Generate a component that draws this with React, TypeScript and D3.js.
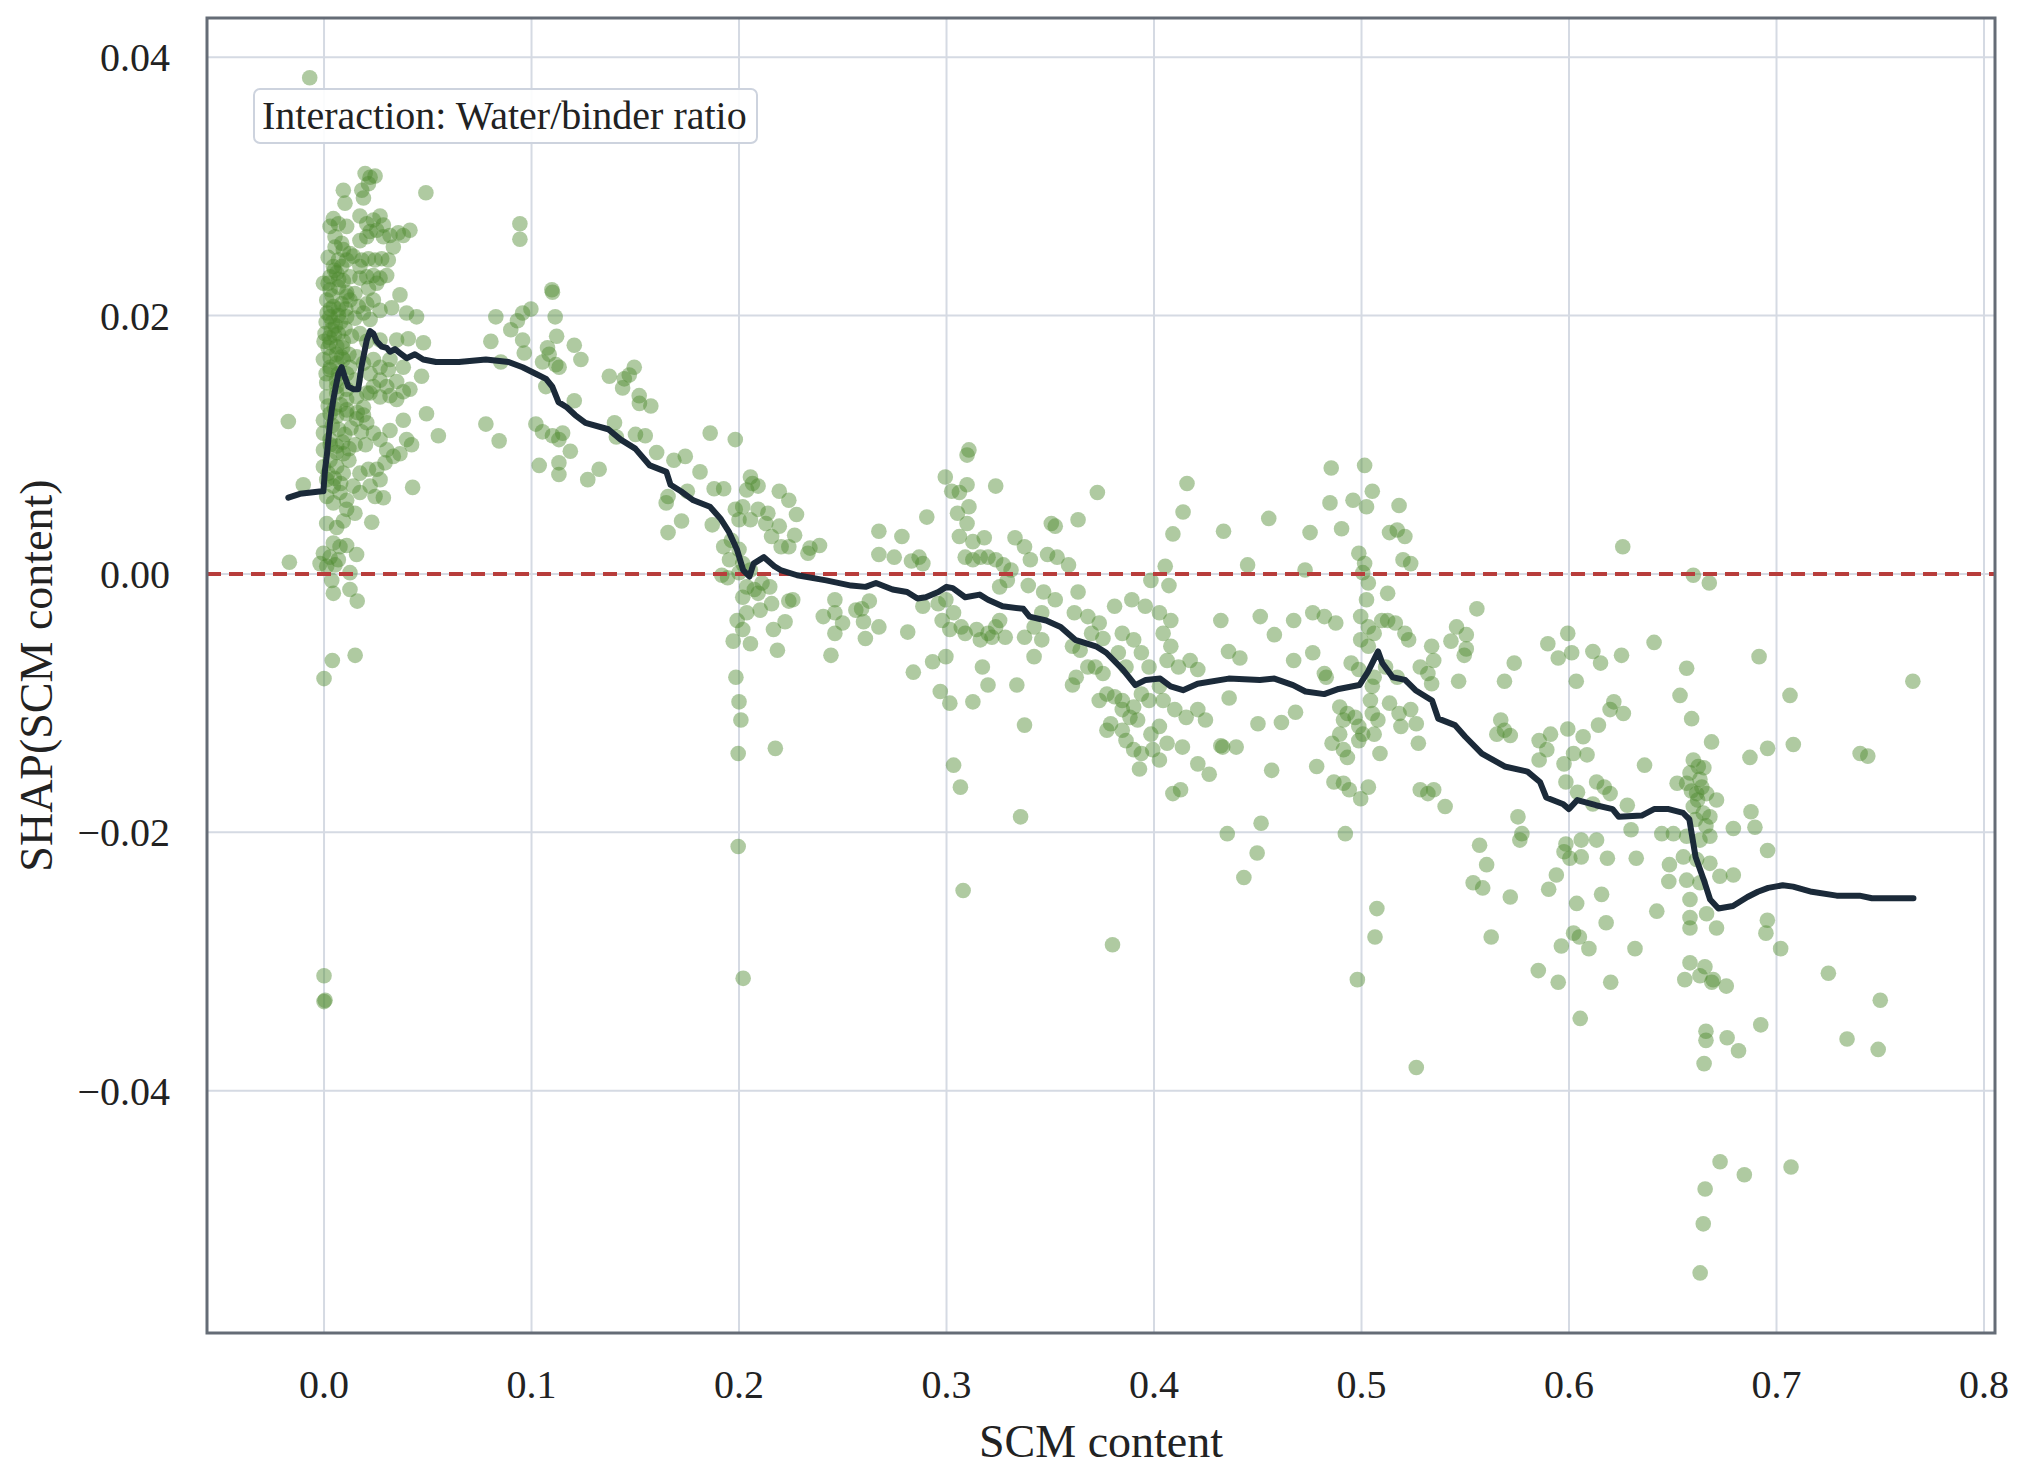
import React, { useEffect } from 'react'
import * as d3 from 'd3'

type Pt = [number, number]

// ---- data (SCM content, SHAP value) ----

// tall cluster at SCM ~ 0, upper part
const clusterZeroUpper: Pt[] = [
  [0.0198, 0.031], [0.0222, 0.0307], [0.0246, 0.0308], [0.0214, 0.0302], [0.0182, 0.0297],
  [0.0093, 0.0297], [0.0101, 0.0287], [0.019, 0.0291], [0.0491, 0.0295],
  [0.0045, 0.0275], [0.0069, 0.0271], [0.0029, 0.0269], [0.0109, 0.0269], [0.0173, 0.0277],
  [0.0206, 0.0271], [0.0238, 0.0274], [0.027, 0.0277], [0.0286, 0.027], [0.0254, 0.0266],
  [0.0206, 0.0261], [0.0173, 0.0258], [0.0222, 0.0265], [0.0286, 0.0261], [0.0318, 0.0262],
  [0.0358, 0.0264], [0.0382, 0.0262], [0.0414, 0.0266], [0.0053, 0.0261], [0.0085, 0.0256],
  [0.0053, 0.0253], [0.0093, 0.0251], [0.0125, 0.0248], [0.0069, 0.0243], [0.0109, 0.0243],
  [0.0141, 0.0246], [0.0182, 0.0243], [0.0214, 0.0244], [0.0246, 0.0243], [0.0278, 0.0244],
  [0.031, 0.0243], [0.0334, 0.0253], [0.0045, 0.0238], [0.0085, 0.0238], [0.0173, 0.0238],
  [-0.0003, 0.0225], [0.0029, 0.023], [0.0061, 0.0233], [0.0093, 0.0227], [0.0125, 0.023],
  [0.0173, 0.0229], [0.0206, 0.023], [0.0238, 0.0231], [0.027, 0.0229], [0.0302, 0.0231],
  [0.0029, 0.022], [0.0069, 0.0222], [0.0109, 0.0218], [0.0149, 0.0217], [0.0214, 0.0221],
  [0.0254, 0.0225], [0.0366, 0.0216],
  [0.0013, 0.0212], [0.0045, 0.0207], [0.0085, 0.0209], [0.0125, 0.0212], [0.0165, 0.0207],
  [0.0206, 0.0209], [0.0238, 0.0212], [0.027, 0.0204], [0.0326, 0.0206], [0.0398, 0.0202],
  [0.0446, 0.0199], [0.0029, 0.0199], [0.0069, 0.02], [0.0109, 0.0199], [0.0149, 0.0198],
  [0.019, 0.0202], [0.0222, 0.0197],
  [0.0005, 0.0186], [0.0037, 0.0189], [0.0069, 0.0186], [0.0101, 0.019], [0.0133, 0.0184],
  [0.0173, 0.0186], [0.0206, 0.018], [0.0029, 0.0179], [0.0061, 0.0176], [0.0093, 0.018],
  [0.027, 0.0181], [0.035, 0.0181], [0.0406, 0.0182], [0.0479, 0.0179],
  [-0.0003, 0.0166], [0.0029, 0.0168], [0.0061, 0.0163], [0.0093, 0.0166], [0.0125, 0.016],
  [0.0157, 0.0168], [0.019, 0.0163], [0.0238, 0.0166], [0.027, 0.016], [0.0318, 0.0166],
  [0.0029, 0.0158], [0.0069, 0.0155], [0.0109, 0.0155], [0.0222, 0.0155], [0.031, 0.0158],
  [0.0382, 0.016], [0.047, 0.0153],
  [0.0013, 0.0148], [0.0061, 0.0145], [0.0109, 0.0143], [0.0149, 0.015], [0.027, 0.015],
  [0.0302, 0.0145], [0.035, 0.0149], [0.0414, 0.0143], [0.0206, 0.014], [0.0238, 0.0145],
  [0.001, 0.0195], [0.003, 0.0205], [0.005, 0.0185], [0.002, 0.0175], [0.008, 0.0195],
  [0.004, 0.0215], [0.007, 0.0205], [0.001, 0.0155], [0.006, 0.017], [0.003, 0.016],
  [0.009, 0.0175], [0.012, 0.017], [0.002, 0.0225], [0.005, 0.0235], [0.011, 0.0215],
  [0.0, 0.018], [0.006, 0.015], [0.004, 0.0195], [0.002, 0.0245], [0.007, 0.0228],
  [0.0015, 0.0202], [0.0055, 0.0192], [0.0085, 0.0168], [0.0025, 0.0183], [0.0105, 0.0205],
]

// cluster at SCM ~ 0, lower part and outliers
const clusterZeroLower: Pt[] = [
  [0.0013, 0.0137], [0.0061, 0.014], [0.0109, 0.0135], [0.0157, 0.0137], [0.019, 0.0129],
  [0.0222, 0.014], [0.027, 0.0137], [0.0318, 0.0138], [0.035, 0.0135], [0.0382, 0.0141],
  [-0.0172, 0.0118], [0.0494, 0.0124], [0.0551, 0.0107], [0.0382, 0.0119], [0.0318, 0.0111],
  [0.0398, 0.0104], [0.0422, 0.01],
  [-0.0003, 0.0119], [0.0029, 0.0124], [0.0061, 0.0122], [0.0109, 0.0124], [0.0157, 0.012],
  [0.019, 0.0123], [0.0206, 0.0117], [0.0238, 0.0109], [0.027, 0.0104], [0.0302, 0.0096],
  [0.0334, 0.0091], [0.0366, 0.0093], [0.0294, 0.0086], [0.0254, 0.0081], [0.0214, 0.0081],
  [0.0173, 0.0078], [0.027, 0.0073], [0.0222, 0.0068], [0.0173, 0.0063], [0.0246, 0.006],
  [0.0286, 0.0059], [0.0141, 0.0068], [0.0109, 0.0057],
  [-0.0003, 0.0109], [0.0029, 0.0104], [0.0061, 0.0099], [0.0093, 0.0093], [-0.0003, 0.0096],
  [0.0029, 0.0088], [0.0061, 0.0083], [-0.0003, 0.0083], [0.0093, 0.0078], [0.0013, 0.0073],
  [0.0045, 0.0068], [0.0013, 0.006], [0.0077, 0.0063], [0.0045, 0.0055], [0.0109, 0.005],
  [0.0149, 0.0047],
  [0.0013, 0.0039], [0.0061, 0.0036], [0.0093, 0.0041], [0.023, 0.004],
  [0.0045, 0.0024], [0.0077, 0.0021], [0.0109, 0.0022], [-0.0003, 0.0016], [0.0029, 0.0013],
  [0.0069, 0.0011], [0.0157, 0.0015], [-0.0019, 0.0008], [0.0013, 0.0006], [0.0053, 0.0007],
  [-0.0167, 0.0009], [-0.01, 0.0069], [0.0427, 0.0067],
  [0.0037, -0.0005], [0.0125, 0.0001], [0.0045, -0.0015], [0.0125, -0.0012], [0.016, -0.0021],
  [0.002, 0.013], [0.005, 0.0128], [0.008, 0.0131], [0.011, 0.0127], [0.004, 0.0115],
  [0.007, 0.0112], [0.01, 0.0108], [0.013, 0.0113], [0.003, 0.01], [0.006, 0.0094],
  [0.009, 0.0102], [0.012, 0.0097], [0.002, 0.0078], [0.005, 0.0074], [0.008, 0.007],
  [0.012, 0.0088], [0.015, 0.01], [0.018, 0.011], [0.016, 0.0125], [0.02, 0.01],
  [0.004, -0.0067], [0.015, -0.0063], [0.0, -0.0081],
  [0.0, -0.0311], [0.0, -0.0331], [0.0005, -0.033], [-0.0069, 0.0384],
]

// SCM 0.05 - 0.2
const bandTenth: Pt[] = [
  [0.0944, 0.0271], [0.0944, 0.0259], [0.078, 0.0116], [0.0844, 0.0103],
  [0.0828, 0.0199], [0.0804, 0.018], [0.0852, 0.0164],
  [0.09, 0.0189], [0.0932, 0.0196], [0.0957, 0.0202], [0.0997, 0.0205],
  [0.0957, 0.0181], [0.0965, 0.0171], [0.1098, 0.022], [0.1101, 0.0218],
  [0.1114, 0.0199], [0.1121, 0.0184], [0.1077, 0.0175], [0.1085, 0.017], [0.1053, 0.0164],
  [0.1117, 0.0162], [0.1133, 0.016], [0.1206, 0.0177], [0.1238, 0.0166],
  [0.1069, 0.0145], [0.1021, 0.0116], [0.1053, 0.011], [0.1101, 0.0107],
  [0.1375, 0.0153], [0.1447, 0.0151], [0.1471, 0.0154], [0.1495, 0.016], [0.1439, 0.0144],
  [0.1519, 0.0138], [0.1037, 0.0084],
  [0.1206, 0.0134], [0.152, 0.0132], [0.1575, 0.013],
  [0.115, 0.0109], [0.1132, 0.0104], [0.1187, 0.0095], [0.1132, 0.0086], [0.1132, 0.0077],
  [0.14, 0.0117], [0.1501, 0.0108], [0.1548, 0.0107], [0.1409, 0.0106],
  [0.1603, 0.0094], [0.1686, 0.0088], [0.1741, 0.0091],
  [0.1326, 0.0081], [0.1271, 0.0073], [0.1812, 0.0079],
  [0.1861, 0.0109], [0.1982, 0.0104],
  [0.1658, 0.006], [0.1649, 0.0055], [0.1751, 0.0064], [0.1723, 0.0041], [0.1658, 0.0032],
  [0.188, 0.0066], [0.1926, 0.0066], [0.1871, 0.0038],
]

// SCM 0.2 - 0.4
const bandFifth: Pt[] = [
  [0.2055, 0.0075], [0.2092, 0.0068], [0.2037, 0.0065], [0.2065, 0.007],
  [0.2194, 0.0064], [0.224, 0.0057], [0.2277, 0.0046], [0.2268, 0.003],
  [0.1982, 0.005], [0.2018, 0.0052], [0.2092, 0.005], [0.2139, 0.0047], [0.2, 0.0042],
  [0.2055, 0.0042], [0.2129, 0.0039], [0.2157, 0.0029], [0.2194, 0.0037], [0.224, 0.0021],
  [0.2203, 0.0021], [0.1963, 0.0026], [0.1926, 0.0021], [0.2, 0.0019], [0.1954, 0.0011],
  [0.2018, 0.0008], [0.2055, 0.0003],
  [0.2342, 0.002], [0.2388, 0.0022], [0.2332, 0.0016],
  [0.1917, -0.0001], [0.2, 0.0001], [0.1945, -0.0003],
  [0.2037, -0.001], [0.2074, -0.0012], [0.2111, -0.0007], [0.2148, -0.001], [0.2018, -0.0018],
  [0.2092, -0.0015], [0.2157, -0.0023], [0.224, -0.0021], [0.2259, -0.002], [0.2102, -0.0028],
  [0.2037, -0.003], [0.1991, -0.0036], [0.2018, -0.0043], [0.1972, -0.0052], [0.2055, -0.0054],
  [0.2166, -0.0043], [0.2222, -0.0037], [0.2185, -0.0059],
  [0.1985, -0.008], [0.2, -0.0099], [0.2009, -0.0113], [0.1996, -0.0139],
  [0.2175, -0.0135], [0.1996, -0.0211], [0.202, -0.0313],
  [0.2406, -0.0033], [0.2462, -0.002], [0.2462, -0.003], [0.2499, -0.0038], [0.2462, -0.0046],
  [0.2443, -0.0063],
  [0.2563, -0.0028], [0.2591, -0.0027], [0.2628, -0.0021], [0.26, -0.0037], [0.2674, -0.0041],
  [0.2609, -0.005],
  [0.2674, 0.0033], [0.2674, 0.0015], [0.2748, 0.0013], [0.2785, 0.0029], [0.2813, -0.0045],
  [0.2831, 0.001], [0.2868, 0.0013], [0.2886, 0.0008], [0.2905, 0.0044], [0.284, -0.0076],
  [0.2994, 0.0075], [0.3025, 0.0064], [0.3062, 0.0063], [0.3099, 0.0069],
  [0.3108, 0.0096], [0.3099, 0.0092], [0.3237, 0.0068],
  [0.3053, 0.0047], [0.3108, 0.0052], [0.3099, 0.0039], [0.3062, 0.0029], [0.3127, 0.0025],
  [0.3182, 0.0028],
  [0.309, 0.0013], [0.3127, 0.0011], [0.3163, 0.0013], [0.32, 0.0013], [0.3237, 0.0011],
  [0.3274, 0.0007], [0.3311, 0.0003], [0.3256, -0.001], [0.3293, -0.0005],
  [0.2886, -0.0025], [0.296, -0.0023], [0.2997, -0.002], [0.3034, -0.003], [0.2979, -0.0036],
  [0.3016, -0.0043], [0.3071, -0.0041], [0.309, -0.0046], [0.3145, -0.0043], [0.3163, -0.0051],
  [0.32, -0.0046], [0.3237, -0.0041], [0.3219, -0.0049], [0.3283, -0.0049], [0.3256, -0.0036],
  [0.2997, -0.0064], [0.2933, -0.0068], [0.297, -0.0091], [0.3016, -0.01], [0.3127, -0.0099],
  [0.3173, -0.0072], [0.32, -0.0086], [0.3339, -0.0086], [0.3376, -0.0117], [0.3034, -0.0148],
  [0.3067, -0.0165], [0.3357, -0.0188], [0.308, -0.0245],
  [0.333, 0.0028], [0.3376, 0.0021], [0.3404, 0.0011], [0.3487, 0.0015], [0.3533, 0.0013],
  [0.3588, 0.0007], [0.3505, 0.0039], [0.3524, 0.0037], [0.3634, 0.0042], [0.3727, 0.0063],
  [0.3394, -0.0009], [0.3468, -0.0014], [0.3524, -0.002], [0.3459, -0.003], [0.3422, -0.0041],
  [0.3634, -0.0014], [0.3616, -0.003], [0.3681, -0.0033], [0.3736, -0.0038], [0.3699, -0.0046],
  [0.3607, -0.0056], [0.3644, -0.0059], [0.3422, -0.0064], [0.3459, -0.0051], [0.3376, -0.0049],
  [0.381, -0.0025], [0.3893, -0.002], [0.3958, -0.0025], [0.3754, -0.005], [0.3847, -0.0046],
  [0.3717, -0.0072], [0.3754, -0.0077], [0.3681, -0.0072], [0.3607, -0.0086], [0.3625, -0.008],
  [0.3773, -0.0093], [0.381, -0.0095], [0.3847, -0.0098], [0.3902, -0.0103], [0.3939, -0.0093],
  [0.3976, -0.0098], [0.3736, -0.0098], [0.3791, -0.0116], [0.3847, -0.0121], [0.3865, -0.0129],
  [0.3902, -0.0136], [0.3939, -0.0139], [0.3994, -0.0136], [0.3985, -0.0124], [0.3921, -0.0113],
  [0.3884, -0.0111], [0.3847, -0.0105], [0.393, -0.0151], [0.3773, -0.0121],
  [0.3985, -0.0005], [0.3902, -0.0051], [0.3939, -0.0061], [0.3828, -0.0061], [0.3865, -0.0072],
  [0.3976, -0.0072], [0.38, -0.0287],
]

// SCM 0.4 - 0.65
const bandHalf: Pt[] = [
  [0.4159, 0.007], [0.414, 0.0048], [0.4091, 0.0031], [0.4054, 0.0006], [0.4072, -0.0009],
  [0.4335, 0.0033], [0.4553, 0.0043], [0.4451, 0.0007], [0.4752, 0.0032], [0.4728, 0.0003],
  [0.4854, 0.0082], [0.5015, 0.0084],
  [0.4848, 0.0055], [0.4959, 0.0057], [0.5024, 0.0052], [0.5052, 0.0064], [0.4904, 0.0035],
  [0.5181, 0.0053], [0.5135, 0.0032], [0.5172, 0.0034], [0.5209, 0.0029], [0.52, 0.0011],
  [0.5237, 0.0008],
  [0.4987, 0.0016], [0.5015, 0.0008], [0.5006, 0.0001], [0.5033, -0.0007], [0.5126, -0.0015],
  [0.5024, -0.002], [0.4996, -0.0033], [0.5033, -0.0041], [0.5061, -0.0046], [0.4996, -0.0051],
  [0.5033, -0.0056], [0.5098, -0.0036], [0.5126, -0.0036], [0.5163, -0.0038], [0.5209, -0.0046],
  [0.5227, -0.0051],
  [0.495, -0.0069], [0.4987, -0.0074], [0.5052, -0.0087], [0.5061, -0.008], [0.5116, -0.0072],
  [0.5172, -0.008], [0.5283, -0.0072], [0.532, -0.0077], [0.5338, -0.0085],
  [0.4895, -0.0103], [0.4932, -0.0108], [0.4913, -0.0113], [0.4969, -0.0111], [0.4987, -0.0118],
  [0.5006, -0.0124], [0.4895, -0.0124], [0.4858, -0.0131], [0.4913, -0.0136], [0.4987, -0.0129],
  [0.5061, -0.0124], [0.5079, -0.0113], [0.5089, -0.0139], [0.5052, -0.0108], [0.5043, -0.0098],
  [0.5135, -0.01], [0.5181, -0.0108], [0.5237, -0.0105], [0.519, -0.0118], [0.5264, -0.0116],
  [0.5274, -0.0131], [0.4932, -0.0142],
  [0.4867, -0.0161], [0.4913, -0.0162], [0.4941, -0.0167], [0.4996, -0.0174], [0.5033, -0.0165],
  [0.4922, -0.0201], [0.4784, -0.0149],
  [0.5283, -0.0167], [0.532, -0.017], [0.5348, -0.0167], [0.5403, -0.018],
  [0.4501, -0.0116], [0.4614, -0.0115], [0.4682, -0.0107], [0.4362, -0.0096], [0.4322, -0.0133],
  [0.4396, -0.0134], [0.4567, -0.0152], [0.4516, -0.0193], [0.4353, -0.0201], [0.458, -0.0047],
  [0.4512, -0.0033], [0.4322, -0.0036], [0.4673, -0.0036], [0.4765, -0.003], [0.4821, -0.0033],
  [0.4876, -0.0038],
  [0.4359, -0.006], [0.4414, -0.0065], [0.4673, -0.0067], [0.4765, -0.0061], [0.4821, -0.0077],
  [0.483, -0.008],
  [0.4026, -0.003], [0.4081, -0.0036], [0.4044, -0.0046], [0.4081, -0.0056], [0.4063, -0.0067],
  [0.4118, -0.0072], [0.4174, -0.0067], [0.4211, -0.0074], [0.4026, -0.0087], [0.4044, -0.0098],
  [0.41, -0.0105], [0.4155, -0.0111], [0.4211, -0.0105], [0.4248, -0.0113], [0.4026, -0.0118],
  [0.4063, -0.0131], [0.4137, -0.0134], [0.4026, -0.0144], [0.4211, -0.0147], [0.4266, -0.0155],
  [0.4091, -0.017], [0.4128, -0.0167], [0.4331, -0.0134],
  [0.5556, -0.0027], [0.5458, -0.0041], [0.5505, -0.0047], [0.5431, -0.0052], [0.5505, -0.0058],
  [0.5495, -0.0063], [0.5338, -0.0056], [0.5348, -0.0067], [0.5468, -0.0083],
  [0.5736, -0.0069], [0.5689, -0.0083],
  [0.5898, -0.0054], [0.5994, -0.0046], [0.5948, -0.0065], [0.6013, -0.0061], [0.6035, -0.0083],
  [0.6115, -0.006], [0.6152, -0.0069], [0.6253, -0.0063], [0.641, -0.0053], [0.6259, 0.0021],
  [0.6216, -0.0099], [0.6198, -0.0105], [0.6262, -0.0108], [0.6142, -0.0117],
  [0.5671, -0.0113], [0.5689, -0.0121], [0.5717, -0.0125], [0.5652, -0.0124],
  [0.5856, -0.0129], [0.5911, -0.0124], [0.5994, -0.012], [0.6068, -0.0126], [0.5893, -0.0136],
  [0.5856, -0.0144], [0.6022, -0.0139], [0.6087, -0.014], [0.5976, -0.0147], [0.5985, -0.0161],
  [0.6041, -0.0169], [0.6133, -0.0161], [0.617, -0.0165], [0.6198, -0.017], [0.6115, -0.0178],
  [0.6281, -0.0179], [0.6364, -0.0148], [0.6299, -0.0198], [0.6503, -0.0201], [0.6521, -0.0162],
  [0.5754, -0.0188], [0.5773, -0.0201], [0.5763, -0.0206], [0.5569, -0.021], [0.6059, -0.0206],
  [0.6133, -0.0206], [0.5985, -0.0209], [0.6447, -0.0201],
  [0.4497, -0.0216], [0.4433, -0.0235], [0.5074, -0.0259], [0.5065, -0.0281], [0.498, -0.0314],
  [0.5264, -0.0382],
  [0.5603, -0.0225], [0.5538, -0.0239], [0.5584, -0.0243], [0.5717, -0.025], [0.5625, -0.0281],
  [0.5976, -0.0215], [0.6004, -0.022], [0.6059, -0.0219], [0.5939, -0.0233], [0.5902, -0.0244],
  [0.6185, -0.022], [0.6324, -0.022],
  [0.6037, -0.0255], [0.6157, -0.0248], [0.6179, -0.027], [0.6022, -0.0278], [0.605, -0.0281],
  [0.5963, -0.0288], [0.6096, -0.029], [0.6318, -0.029],
  [0.5852, -0.0307], [0.5948, -0.0316], [0.6201, -0.0316], [0.6054, -0.0344],
  [0.6423, -0.0261], [0.6484, -0.0225], [0.6481, -0.0238],
]

// SCM 0.65 - 0.8
const bandTail: Pt[] = [
  [0.6599, -0.0001], [0.6676, -0.0007], [0.6916, -0.0064],
  [0.6567, -0.0073], [0.6535, -0.0094], [0.6591, -0.0112], [0.6687, -0.013],
  [0.7657, -0.0083], [0.7065, -0.0094], [0.7081, -0.0132], [0.7403, -0.0139], [0.6872, -0.0142],
  [0.6957, -0.0135],
  [0.6877, -0.0184], [0.6896, -0.0196], [0.6792, -0.0197], [0.6957, -0.0214],
  [0.6711, -0.0175], [0.6679, -0.0188],
  [0.6599, -0.0144], [0.6623, -0.0149], [0.6583, -0.0154], [0.6631, -0.0159], [0.6567, -0.0162],
  [0.6615, -0.017], [0.6663, -0.017], [0.6599, -0.018], [0.6647, -0.0185], [0.6679, -0.0203],
  [0.6631, -0.0206], [0.6567, -0.0203], [0.6551, -0.0219], [0.6615, -0.0221], [0.6679, -0.0224],
  [0.6727, -0.0234], [0.6792, -0.0233], [0.6567, -0.0237], [0.6631, -0.0239], [0.6583, -0.0252],
  [0.6663, -0.0263], [0.6583, -0.0266], [0.6583, -0.0274], [0.6711, -0.0274],
  [0.664, -0.0165], [0.661, -0.019], [0.665, -0.015], [0.662, -0.0175], [0.666, -0.0195],
  [0.659, -0.0168],
  [0.6956, -0.0268], [0.6949, -0.0278], [0.702, -0.029], [0.725, -0.0309],
  [0.6583, -0.0301], [0.6655, -0.0304], [0.6631, -0.0311], [0.6695, -0.0314],
  [0.6558, -0.0314], [0.6688, -0.0316], [0.6758, -0.0319],
  [0.666, -0.0354], [0.666, -0.0361], [0.6762, -0.0359], [0.6817, -0.0369], [0.6651, -0.0379],
  [0.6924, -0.0349], [0.6728, -0.0455], [0.6845, -0.0465], [0.6656, -0.0476], [0.6647, -0.0503],
  [0.6632, -0.0541],
  [0.734, -0.036], [0.75, -0.033], [0.749, -0.0368], [0.707, -0.0459], [0.744, -0.0141],
]

// running-mean trend line
const trendLine: Pt[] = [
  [-0.0172, 0.0059], [-0.0116, 0.0062], [-0.0011, 0.0064], [-0.0003, 0.0064], [0.0005, 0.0081],
  [0.0013, 0.0091], [0.0029, 0.0117], [0.0037, 0.0127], [0.0045, 0.0135], [0.0053, 0.0142],
  [0.0069, 0.0155], [0.0085, 0.016], [0.0101, 0.0152], [0.0117, 0.0145], [0.0141, 0.0143],
  [0.0165, 0.0143], [0.018, 0.016], [0.0206, 0.0181], [0.0222, 0.0188], [0.0238, 0.0186],
  [0.0254, 0.018], [0.0278, 0.0176], [0.0302, 0.0175], [0.0318, 0.0172], [0.0342, 0.0174],
  [0.0366, 0.0171], [0.0398, 0.0167], [0.0438, 0.017], [0.0478, 0.0166], [0.054, 0.0164],
  [0.065, 0.0164], [0.078, 0.0166], [0.089, 0.0164], [0.0957, 0.016], [0.102, 0.0155],
  [0.107, 0.0151], [0.11, 0.0145], [0.113, 0.0133], [0.117, 0.0129], [0.121, 0.0123],
  [0.126, 0.0117], [0.137, 0.0112], [0.143, 0.0104], [0.15, 0.0097], [0.157, 0.0084],
  [0.165, 0.0079], [0.167, 0.0069], [0.172, 0.0064], [0.178, 0.0057], [0.186, 0.0052],
  [0.191, 0.0043], [0.195, 0.0033], [0.199, 0.0019], [0.202, 0.0003], [0.205, -0.0002],
  [0.207, 0.0008], [0.212, 0.0013], [0.217, 0.0006], [0.22, 0.0003], [0.228, -0.0001],
  [0.242, -0.0005], [0.254, -0.0009], [0.261, -0.001], [0.266, -0.0007], [0.274, -0.0012],
  [0.281, -0.0014], [0.286, -0.0019], [0.29, -0.0018], [0.296, -0.0014], [0.3, -0.001],
  [0.303, -0.0011], [0.309, -0.0018], [0.316, -0.0016], [0.32, -0.002], [0.327, -0.0025],
  [0.337, -0.0027], [0.34, -0.0033], [0.348, -0.0036], [0.355, -0.0041], [0.362, -0.0051],
  [0.372, -0.0056], [0.377, -0.0061], [0.385, -0.0074], [0.391, -0.0086], [0.396, -0.0082],
  [0.403, -0.0081], [0.408, -0.0087], [0.414, -0.009], [0.421, -0.0085], [0.436, -0.0081],
  [0.451, -0.0082], [0.458, -0.0081], [0.467, -0.0086], [0.473, -0.0091], [0.482, -0.0093],
  [0.489, -0.0089], [0.499, -0.0086], [0.503, -0.0076], [0.508, -0.006], [0.51, -0.0069],
  [0.515, -0.008], [0.521, -0.0082], [0.526, -0.009], [0.534, -0.0098], [0.537, -0.0112],
  [0.545, -0.0117], [0.55, -0.0126], [0.558, -0.0139], [0.569, -0.0149], [0.58, -0.0153],
  [0.586, -0.0161], [0.589, -0.0173], [0.597, -0.0178], [0.6, -0.0182], [0.604, -0.0175],
  [0.613, -0.0179], [0.621, -0.0182], [0.624, -0.0188], [0.635, -0.0187], [0.641, -0.0182],
  [0.648, -0.0182], [0.655, -0.0185], [0.658, -0.019], [0.661, -0.0219], [0.665, -0.0237],
  [0.668, -0.0252], [0.672, -0.0259], [0.679, -0.0257], [0.686, -0.025], [0.691, -0.0246],
  [0.696, -0.0243], [0.703, -0.0241], [0.708, -0.0242], [0.717, -0.0246], [0.729, -0.0249],
  [0.74, -0.0249], [0.746, -0.0251], [0.766, -0.0251],
]

const xTicks = [0.0, 0.1, 0.2, 0.3, 0.4, 0.5, 0.6, 0.7, 0.8]
const yTicks = [0.04, 0.02, 0.0, -0.02, -0.04]

const allPoints: Pt[] = [
  ...clusterZeroUpper, ...clusterZeroLower, ...bandTenth, ...bandFifth, ...bandHalf, ...bandTail,
]

const W = 2026
const H = 1480
const plot = { left: 207, top: 18, right: 1995, bottom: 1333 }
const FONT = '"Liberation Serif", "Times New Roman", serif'

export default function App() {
  useEffect(() => {
    document.body.style.margin = '0'
    document.body.style.overflow = 'hidden'
  }, [])

  const x = d3.scaleLinear().domain([-0.0564, 0.8053]).range([plot.left, plot.right])
  const y = d3.scaleLinear().domain([-0.05875, 0.04303]).range([plot.bottom, plot.top])
  const line = d3.line<Pt>().x(d => x(d[0])).y(d => y(d[1]))
  const fmtY = (v: number) => (v < 0 ? '\u2212' : '') + Math.abs(v).toFixed(2)

  return (
    <svg width={W} height={H} style={{ position: 'absolute', left: 0, top: 0, background: '#fff' }}>
      <rect x={0} y={0} width={W} height={H} fill="#ffffff" />

      {/* grid */}
      {xTicks.map(t => (
        <line key={'gx' + t} x1={x(t)} x2={x(t)} y1={plot.top} y2={plot.bottom} stroke="#d5dae3" strokeWidth={2} />
      ))}
      {yTicks.map(t => (
        <line key={'gy' + t} x1={plot.left} x2={plot.right} y1={y(t)} y2={y(t)} stroke="#d5dae3" strokeWidth={2} />
      ))}

      {/* scatter */}
      <g>
        {allPoints.map((d, i) => (
          <circle key={i} cx={x(d[0])} cy={y(d[1])} r={7.8} fill="#4d8a2f" fillOpacity={0.45} />
        ))}
      </g>

      {/* zero reference */}
      <line x1={plot.left} x2={plot.right} y1={y(0)} y2={y(0)} stroke="#b83d3b" strokeWidth={4} strokeDasharray="14 8" />

      {/* trend */}
      <path d={line(trendLine) || ''} fill="none" stroke="#1b2a39" strokeWidth={6} strokeLinejoin="round" strokeLinecap="round" />

      {/* frame */}
      <rect x={plot.left} y={plot.top} width={plot.right - plot.left} height={plot.bottom - plot.top}
        fill="none" stroke="#656c76" strokeWidth={3} />

      {/* tick labels */}
      {xTicks.map(t => (
        <text key={'tx' + t} x={x(t)} y={1398} textAnchor="middle" fontFamily={FONT} fontSize={40} fill="#222">
          {t.toFixed(1)}
        </text>
      ))}
      {yTicks.map(t => (
        <text key={'ty' + t} x={170} y={y(t)} dy="0.35em" textAnchor="end" fontFamily={FONT} fontSize={40} fill="#222">
          {fmtY(t)}
        </text>
      ))}

      {/* axis titles */}
      <text x={(plot.left + plot.right) / 2} y={1457} textAnchor="middle" fontFamily={FONT} fontSize={46} fill="#222">
        SCM content
      </text>
      <text transform={`translate(52,${(plot.top + plot.bottom) / 2}) rotate(-90)`} textAnchor="middle"
        fontFamily={FONT} fontSize={46} fill="#222">
        SHAP(SCM content)
      </text>

      {/* annotation box */}
      <rect x={254} y={89} width={503} height={54} rx={6} fill="#ffffff" fillOpacity={0.9} stroke="#cdd3de" strokeWidth={2} />
      <text x={262} y={129} fontFamily={FONT} fontSize={40} fill="#222">
        Interaction: Water/binder ratio
      </text>
    </svg>
  )
}
